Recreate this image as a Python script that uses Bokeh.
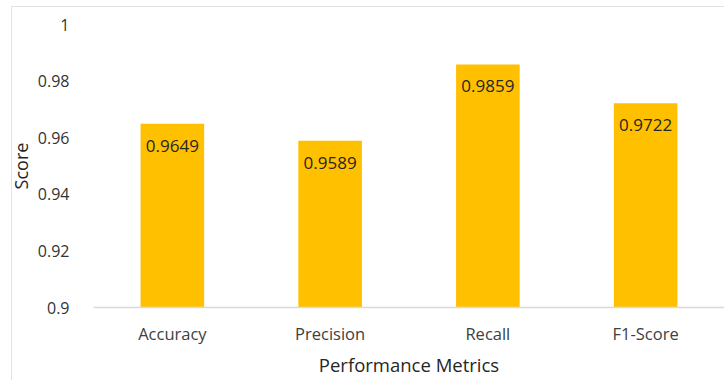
from bokeh.plotting import figure
from bokeh.models import ColumnDataSource, Range1d, FactorRange, FixedTicker, CustomJSTickFormatter
from bokeh.core.properties import value
from bokeh.embed import file_html
from bokeh.resources import INLINE

# Model evaluation scores
metrics = ["Accuracy", "Precision", "Recall", "F1-Score"]
scores = [0.9649, 0.9589, 0.9859, 0.9722]
score_labels = ["0.9649", "0.9589", "0.9859", "0.9722"]
y_ticks = [0.9, 0.92, 0.94, 0.96, 0.98, 1.0]

FONT = "Open Sans"
BAR_COLOR = "#FFC000"
EDGE = "#e3e3e3"

source = ColumnDataSource(data=dict(metric=metrics, score=scores, label=score_labels))

p = figure(
    width=724, height=380,
    x_range=FactorRange(factors=metrics, start=0, end=3.974),
    y_range=Range1d(0.9, 1.0),
    output_backend="svg", toolbar_location=None,
    min_border_left=93, min_border_right=0, min_border_top=24, min_border_bottom=73,
)

# canvas margin is transparent; the page behind it carries the chart-area edge lines
p.border_fill_color = None
p.styles = {
    "background-color": "white",
    "background-image": f"linear-gradient({EDGE}, {EDGE}), linear-gradient({EDGE}, {EDGE})",
    "background-size": "1px 100%, 100% 1px",
    "background-position": "11px 6px, 11px 6px",
    "background-repeat": "no-repeat",
}

p.vbar(x="metric", top="score", bottom=0.9, width=0.403, source=source,
       fill_color=BAR_COLOR, line_color=None)

p.text(x="metric", y="score", text="label", source=source,
       text_font=value(FONT), text_font_size="17px", text_color="#262626",
       text_align="center", text_baseline="middle", y_offset=22)

p.outline_line_color = None
p.background_fill_color = "white"
p.xgrid.grid_line_color = None
p.ygrid.grid_line_color = None

# y axis: labels only
p.yaxis.ticker = FixedTicker(ticks=y_ticks)
p.yaxis.formatter = CustomJSTickFormatter(code="return Number(tick.toFixed(2)).toString();")
p.yaxis.axis_line_color = None
p.yaxis.major_tick_line_color = None
p.yaxis.minor_tick_line_color = None
p.yaxis.major_label_standoff = 18
p.yaxis.major_label_text_font = FONT
p.yaxis.major_label_text_font_size = "16px"
p.yaxis.major_label_text_color = "#333333"
p.yaxis.axis_label = "Score"
p.yaxis.axis_label_text_font = FONT
p.yaxis.axis_label_text_font_size = "18px"
p.yaxis.axis_label_text_font_style = "normal"
p.yaxis.axis_label_text_color = "#262626"
p.yaxis.axis_label_standoff = 2

# x axis: baseline plus category names
p.xaxis.axis_line_color = "#d9d9d9"
p.xaxis.axis_line_width = 1.5
p.xaxis.major_tick_line_color = None
p.xaxis.minor_tick_line_color = None
p.xaxis.major_label_standoff = 8
p.xaxis.major_label_text_font = FONT
p.xaxis.major_label_text_font_size = "16.5px"
p.xaxis.major_label_text_color = "#404040"
p.xaxis.axis_label = "Performance Metrics"
p.xaxis.axis_label_text_font = FONT
p.xaxis.axis_label_text_font_size = "18.5px"
p.xaxis.axis_label_text_font_style = "normal"
p.xaxis.axis_label_text_color = "#262626"
p.xaxis.axis_label_standoff = 4

open("out.html", "w").write(file_html(p, INLINE))
